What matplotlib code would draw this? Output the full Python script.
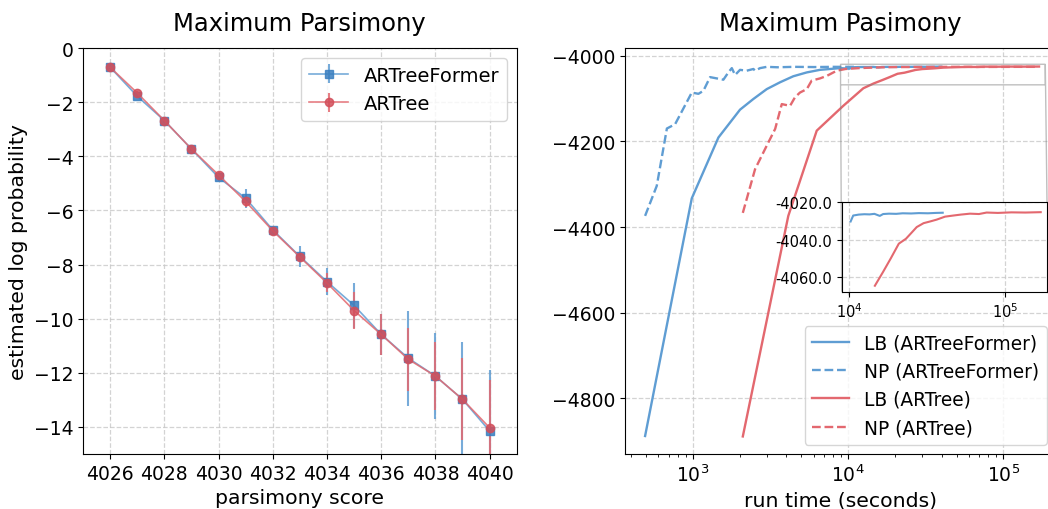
import numpy as np
import matplotlib
matplotlib.use("Agg")
import matplotlib.pyplot as plt
from matplotlib.ticker import FormatStrFormatter, NullLocator

# ---------------- data: left panel ----------------
scores = [4026, 4027, 4028, 4029, 4030, 4031, 4032, 4033, 4034, 4035, 4036, 4037, 4038, 4039, 4040]
former_mean = [-0.71, -1.78, -2.68, -3.73, -4.78, -5.55, -6.72, -7.70, -8.63, -9.51, -10.58, -11.46, -12.12, -12.98, -14.15]
former_err = [0.08, 0.08, 0.08, 0.08, 0.12, 0.35, 0.12, 0.40, 0.50, 0.83, 0.75, 1.75, 1.60, 2.10, 2.26]
artree_mean = [-0.71, -1.66, -2.68, -3.73, -4.69, -5.67, -6.75, -7.72, -8.68, -9.70, -10.58, -11.50, -12.12, -12.98, -14.03]
artree_err = [0.06, 0.07, 0.07, 0.07, 0.10, 0.20, 0.10, 0.15, 0.35, 0.70, 0.75, 1.17, 1.27, 1.52, 1.75]

# ---------------- data: right panel ----------------
lb_former_t = [493, 985, 1462, 2014, 2456, 2993, 3648, 4436, 5420, 6590, 8870, 10200, 10600, 11500,
               12500, 13500, 14500, 15700, 16500, 18000, 20000, 22000, 25000, 28000, 32000, 36000, 39800]
lb_former_v = [-4888, -4333, -4191, -4126, -4101, -4078, -4062, -4048, -4039, -4033, -4029, -4030.3, -4027.1, -4026.6,
               -4026.4, -4026.5, -4026.2, -4027.3, -4026.3, -4026.1, -4026.2, -4025.9, -4026.0, -4025.8, -4025.9, -4025.7, -4025.6]

np_former_t = [493, 586, 681, 769, 937, 985, 1087, 1170, 1292, 1427, 1574, 1694, 1783, 1872, 2014, 2223,
               2456, 2517, 2710, 2993, 3500, 4500, 6000, 8000, 10900]
np_former_v = [-4374, -4304, -4170, -4160, -4101, -4086, -4089, -4082, -4050, -4053, -4056, -4039, -4029, -4045, -4033, -4035,
               -4031, -4035, -4029, -4026, -4027, -4026, -4026.5, -4026, -4026]

lb_artree_t = [2099, 4120, 6280, 9310, 12530, 14600, 16500, 18500, 20800, 23100, 25000, 27100, 30000, 33000,
               36400, 41200, 46600, 52000, 59600, 68000, 76200, 90000, 110000, 135000, 169500]
lb_artree_v = [-4889, -4374, -4175, -4117, -4076, -4064.8, -4057.3, -4050, -4042.2, -4039.6, -4036.5, -4033.3, -4031.2, -4030.3,
               -4029.3, -4027.7, -4027.1, -4026.6, -4026.1, -4026.3, -4025.5, -4025.7, -4025.4, -4025.5, -4025.3]

np_artree_t = [2099, 2517, 2993, 3390, 3740, 4230, 4550, 4900, 5420, 5830, 6590, 7300, 8450, 9630, 11700,
               15000, 20000, 30000, 50000, 80000, 120000, 168000]
np_artree_v = [-4367, -4265, -4210, -4171, -4113, -4117, -4097, -4086, -4078, -4058, -4053, -4047, -4035, -4031, -4029,
               -4027.5, -4026.5, -4026.3, -4026, -4026.2, -4026, -4026]

inset_start_former = 10000
inset_start_artree = 14000

# ---------------- style ----------------
BLUE_L = '#5f9dd3'
RED_L = '#e3686f'
BLUE_M = '#3a7fc0'
RED_M = '#d24f5b'

W, H = 1048, 510
fig = plt.figure(figsize=(W / 100, H / 100), dpi=100)

def px_axes(l, r, t, b):
    return [l / W, (H - b) / H, (r - l) / W, (b - t) / H]

grid_kw = dict(linestyle='--', color='#c8c8c8', linewidth=0.9, alpha=0.8)
TICK = 13.5
LABEL = 14.7
TITLE = 17.5

# ---------------- left panel ----------------
ax1 = fig.add_axes(px_axes(83, 516.7, 49, 455))
ax1.errorbar(scores, former_mean, yerr=former_err, color=BLUE_L, marker='s', markersize=6,
             markerfacecolor=BLUE_M, markeredgecolor=BLUE_M, linewidth=1.2, elinewidth=1.5,
             alpha=0.85, label='ARTreeFormer')
ax1.errorbar(scores, artree_mean, yerr=artree_err, color=RED_L, marker='o', markersize=6,
             markerfacecolor=RED_M, markeredgecolor=RED_M, linewidth=1.2, elinewidth=1.5,
             alpha=0.85, label='ARTree')
ax1.set_xlim(4025, 4041)
ax1.set_ylim(-15, 0)
ax1.set_xticks(range(4026, 4041, 2))
ax1.set_yticks(range(-14, 1, 2))
ax1.tick_params(labelsize=TICK)
ax1.set_xlabel('parsimony score', fontsize=LABEL)
ax1.set_ylabel('estimated log probability', fontsize=LABEL)
ax1.set_title('Maximum Parsimony', fontsize=TITLE, pad=13)
ax1.grid(True, **grid_kw)
ax1.set_axisbelow(True)
ax1.legend(loc='upper right', fontsize=14, handlelength=2.0)

# ---------------- right panel ----------------
ax2 = fig.add_axes(px_axes(625, 1056, 49, 455))
ax2.plot(lb_former_t, lb_former_v, color=BLUE_L, linewidth=1.7, label='LB (ARTreeFormer)')
ax2.plot(np_former_t, np_former_v, color=BLUE_L, linewidth=1.7, linestyle='--', label='NP (ARTreeFormer)')
ax2.plot(lb_artree_t, lb_artree_v, color=RED_L, linewidth=1.7, label='LB (ARTree)')
ax2.plot(np_artree_t, np_artree_v, color=RED_L, linewidth=1.7, linestyle='--', label='NP (ARTree)')
ax2.set_xscale('log')
ax2.set_xlim(366, 2.18e5)
ax2.set_ylim(-4930, -3982)
ax2.set_yticks([-4800, -4600, -4400, -4200, -4000])
ax2.tick_params(labelsize=TICK)
ax2.set_xlabel('run time (seconds)', fontsize=LABEL)
ax2.set_title('Maximum Pasimony', fontsize=TITLE, pad=13)
ax2.grid(True, which='major', **grid_kw)
ax2.set_axisbelow(True)
ax2.legend(loc='lower right', fontsize=13.4, handlelength=2.0)

# inset
axin = fig.add_axes(px_axes(841.7, 1047, 203.3, 292.7))
lbf_t = np.array(lb_former_t); lbf_v = np.array(lb_former_v)
lba_t = np.array(lb_artree_t); lba_v = np.array(lb_artree_v)
mf = lbf_t >= inset_start_former
ma = lba_t >= inset_start_artree
axin.plot(lbf_t[mf], lbf_v[mf], color=BLUE_L, linewidth=1.5)
axin.plot(lba_t[ma], lba_v[ma], color=RED_L, linewidth=1.5)
axin.set_xscale('log')
axin.set_xlim(8940, 1.86e5)
axin.set_ylim(-4068, -4020)
axin.set_yticks([-4060, -4040, -4020])
axin.yaxis.set_major_formatter(FormatStrFormatter('%.1f'))
axin.xaxis.set_minor_locator(NullLocator())
axin.tick_params(labelsize=10.5)
axin.grid(True, which='major', **grid_kw)
axin.set_axisbelow(True)
ax2.indicate_inset_zoom(axin, edgecolor='#808080')

fig.savefig('out.png', dpi=100)
